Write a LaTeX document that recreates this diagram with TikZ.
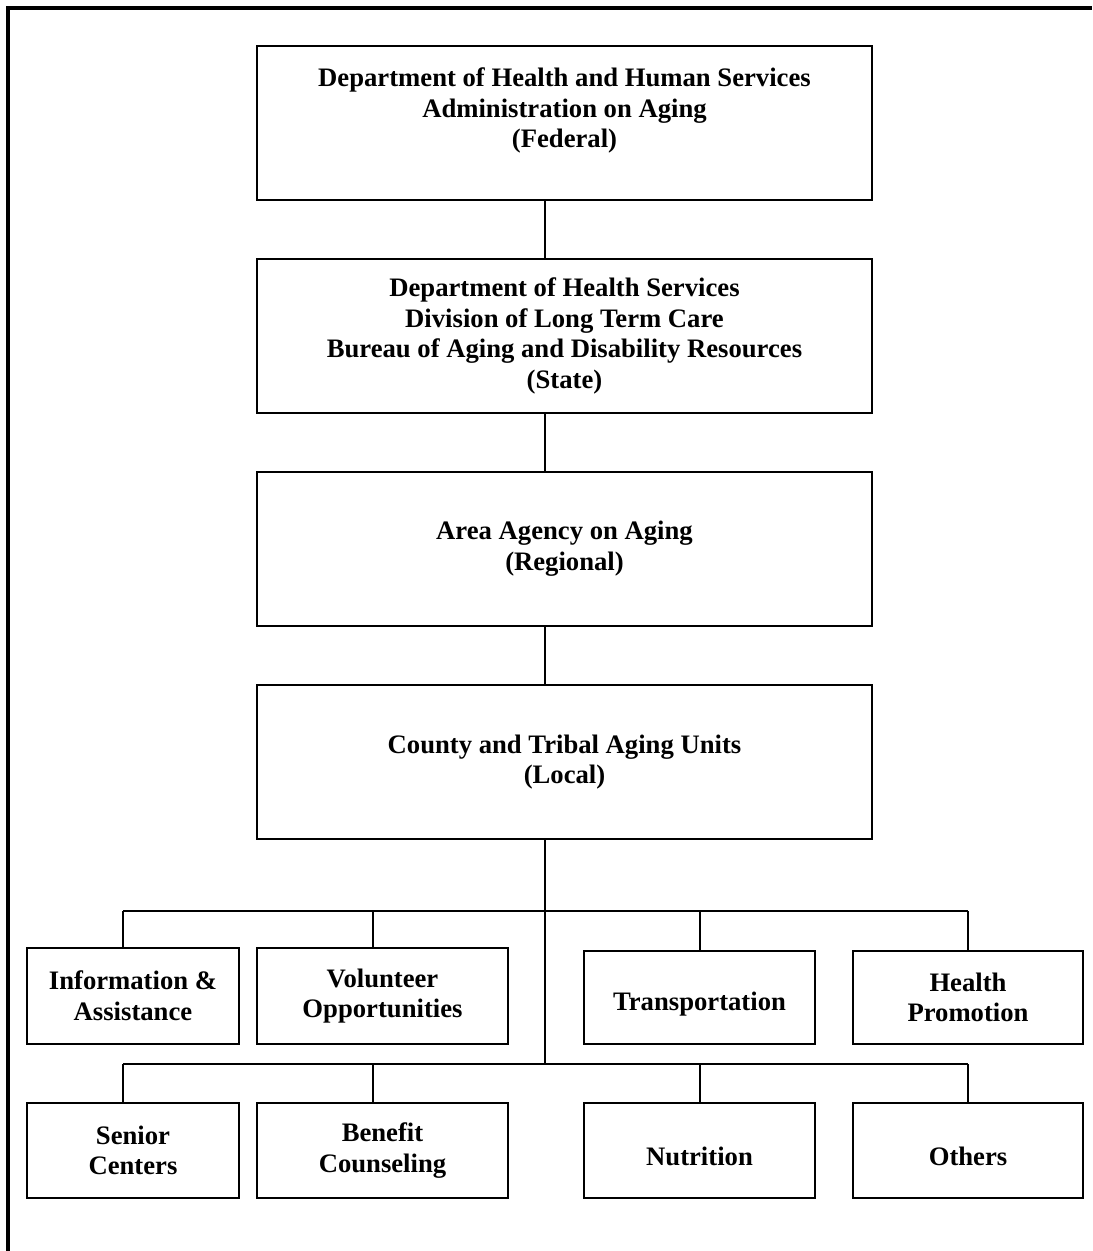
\documentclass[tikz,border=0pt]{standalone}
\usepackage{fontspec}
\setmainfont{Liberation Serif}
\usetikzlibrary{positioning}

\begin{document}
\begin{tikzpicture}[x=0.75pt, y=-0.75pt, node distance=42.75pt,
    level/.style={draw, line width=1.5pt, minimum width=461.25pt, minimum height=115.5pt,
      inner sep=0pt, align=center, font=\bfseries\fontsize{20}{23}\selectfont},
    service/.style={draw, line width=1.5pt, minimum height=71.25pt,
      inner sep=0pt, align=center, font=\bfseries\fontsize{20}{23}\selectfont},
    link/.style={line width=1.1pt}]
  \useasboundingbox (0,0) rectangle (1092,1251);
  \draw[line width=3pt] (8,1251) -- (8,8) -- (1092,8);

  % levels
  \node[level] (fed) at (564.5,123) {Department of Health and Human Services\\Administration on Aging\\(Federal)\\\mbox{}};
  \node[level, below=of fed] (state) {Department of Health Services\\Division of Long Term Care\\Bureau of Aging and Disability Resources\\(State)};
  \node[level, below=of state] (region) {Area Agency on Aging\\(Regional)};
  \node[level, below=of region] (local) {County and Tribal Aging Units\\(Local)};

  % services
  \node[service, minimum width=159pt, minimum height=72pt] (info) at (133,996) {Information \&\\Assistance};
  \node[service, minimum width=188.25pt, minimum height=72pt] (volunteer) at (382.5,996) {Volunteer\\Opportunities};
  \node[service, minimum width=173.25pt, minimum height=69.75pt] (transport) at (699.5,997.5) {\mbox{}\\Transportation};
  \node[service, minimum width=172.5pt, minimum height=69.75pt] (health) at (968,997.5) {Health\\Promotion};
  \node[service, minimum width=159pt] (senior) at (133,1150.5) {Senior\\Centers};
  \node[service, minimum width=188.25pt] (benefit) at (382.5,1150.5) {Benefit\\Counseling};
  \node[service, minimum width=173.25pt] (nutrition) at (699.5,1150.5) {\mbox{}\\Nutrition};
  \node[service, minimum width=172.5pt] (others) at (968,1150.5) {\mbox{}\\Others};

  % connectors
  \coordinate (trunk) at (545,0);
  \coordinate (a1) at (123,911);
  \coordinate (a2) at (373,911);
  \coordinate (a3) at (700,911);
  \coordinate (a4) at (968,911);
  \coordinate (b1) at (123,1064);
  \coordinate (b2) at (373,1064);
  \coordinate (b3) at (700,1064);
  \coordinate (b4) at (968,1064);
  \draw[link] (fed.south -| trunk) -- (state.north -| trunk);
  \draw[link] (state.south -| trunk) -- (region.north -| trunk);
  \draw[link] (region.south -| trunk) -- (local.north -| trunk);
  \draw[link] (local.south -| trunk) -- (b1 -| trunk);
  \draw[link] (a1) -- (a4);
  \draw[link] (b1) -- (b4);
  \foreach \c/\n in {a1/info, a2/volunteer, a3/transport, a4/health,
                     b1/senior, b2/benefit, b3/nutrition, b4/others}
    \draw[link] (\c) -- (\c |- \n.north);
\end{tikzpicture}
\end{document}
